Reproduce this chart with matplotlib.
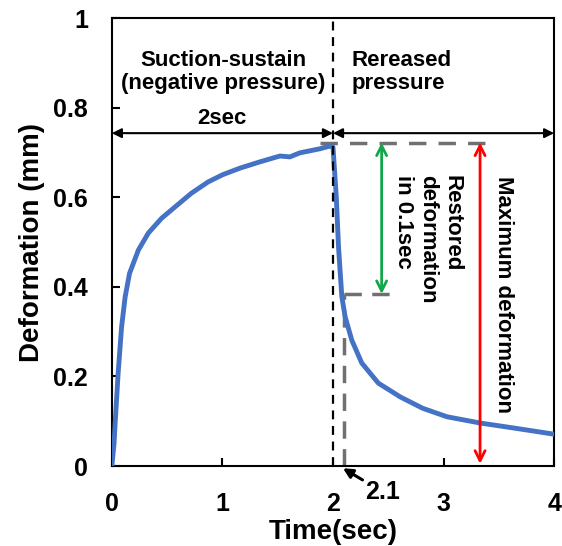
import matplotlib.pyplot as plt

plt.rcParams['font.family'] = ['Liberation Sans', 'DejaVu Sans']
plt.rcParams['font.weight'] = 'bold'

# measured deformation vs time
time_sec = [0.0, 0.02, 0.03, 0.057, 0.088, 0.12, 0.16, 0.24, 0.33, 0.45, 0.57,
            0.72, 0.87, 1.0, 1.16, 1.34, 1.52, 1.61, 1.70, 1.88, 1.97, 2.0,
            2.03, 2.05, 2.08, 2.11, 2.17, 2.26, 2.41, 2.61, 2.81,
            3.03, 3.33, 3.63, 4.0]
deform_mm = [0.0, 0.05, 0.096, 0.207, 0.31, 0.377, 0.43, 0.482, 0.52, 0.553, 0.578,
             0.609, 0.634, 0.65, 0.665, 0.679, 0.692, 0.69, 0.699, 0.708, 0.714, 0.712,
             0.60, 0.489, 0.378, 0.333, 0.281, 0.23, 0.185, 0.154, 0.129,
             0.11, 0.096, 0.085, 0.071]

t_release = 2.0
t_restore = 2.1
max_def = 0.722
restored_level = 0.384

fig = plt.figure(figsize=(5.62, 5.46), dpi=100)
ax = fig.add_axes([0.199, 0.1465, 0.787, 0.8205])

ax.plot(time_sec, deform_mm, color='#4472C4', lw=3.5, zorder=3,
        solid_joinstyle='round', solid_capstyle='round')

ax.set_xlim(0, 4)
ax.set_ylim(0, 1)
ax.set_xticks([0, 1, 2, 3, 4])
ax.set_yticks([0, 0.2, 0.4, 0.6, 0.8, 1])
ax.set_yticklabels(['0', '0.2', '0.4', '0.6', '0.8', '1'])
ax.tick_params(direction='in', length=6, width=1.5, labelsize=18)
ax.tick_params(axis='y', pad=17)
ax.tick_params(axis='x', pad=19)
for s in ax.spines.values():
    s.set_linewidth(1.5)

ax.set_xlabel('Time(sec)', fontsize=20, fontweight='bold', labelpad=2)
ax.set_ylabel('Deformation (mm)', fontsize=20, fontweight='bold', labelpad=6)

# release line and 0.1 s mark
ax.plot([t_release, t_release], [0, 1], color='black', lw=1.6, ls=(0, (4, 3)), zorder=4)
ax.plot([t_restore, t_restore], [0, restored_level], color='#707070', lw=2.5,
        ls=(0, (5, 3)), zorder=2)
ax.plot([1.88, 3.39], [max_def, max_def], color='#707070', lw=2.5,
        ls=(0, (5, 3.5)), zorder=2)
ax.plot([2.1, 2.52], [restored_level, restored_level], color='#707070', lw=2.5,
        ls=(0, (5, 3)), zorder=2)

# phase arrows
arrow_k = dict(arrowstyle='<|-|>', color='black', lw=1.5, mutation_scale=14,
               shrinkA=0, shrinkB=0)
ax.annotate('', xy=(0, 0.743), xytext=(t_release, 0.743), arrowprops=arrow_k)
ax.annotate('', xy=(t_release, 0.743), xytext=(4, 0.743), arrowprops=arrow_k)

ax.annotate('', xy=(2.44, max_def), xytext=(2.44, restored_level),
            arrowprops=dict(arrowstyle='<->', color='#12A84A', lw=2,
                            mutation_scale=18, shrinkA=0, shrinkB=0))
ax.annotate('', xy=(3.33, max_def), xytext=(3.33, 0.005),
            arrowprops=dict(arrowstyle='<->', color='#FF0000', lw=2,
                            mutation_scale=18, shrinkA=0, shrinkB=0))

ax.text(1.01, 0.88, 'Suction-sustain\n(negative pressure)', ha='center', va='center',
        fontsize=16, fontweight='bold', linespacing=1.15)
ax.text(1.0, 0.775, '2sec', ha='center', va='center', fontsize=16, fontweight='bold')
ax.text(2.17, 0.88, 'Rereased\npressure', ha='left', va='center',
        fontsize=16, fontweight='bold', linespacing=1.15)
ax.text(2.86, 0.65, 'Restored\ndeformation\nin 0.1sec', ha='center', va='top',
        rotation=270, multialignment='left', fontsize=16, fontweight='bold',
        linespacing=1.2)
ax.text(3.54, 0.382, 'Maximum deformation', ha='center', va='center',
        rotation=270, fontsize=16, fontweight='bold')

ax.annotate('2.1', xy=(t_restore - 0.01, -0.005), xytext=(2.45, -0.058),
            ha='center', va='center', fontsize=18, fontweight='bold',
            annotation_clip=False,
            arrowprops=dict(arrowstyle='-|>', color='black', lw=2.2,
                            mutation_scale=14, shrinkA=0, shrinkB=0))

fig.savefig('out.png', dpi=100)
